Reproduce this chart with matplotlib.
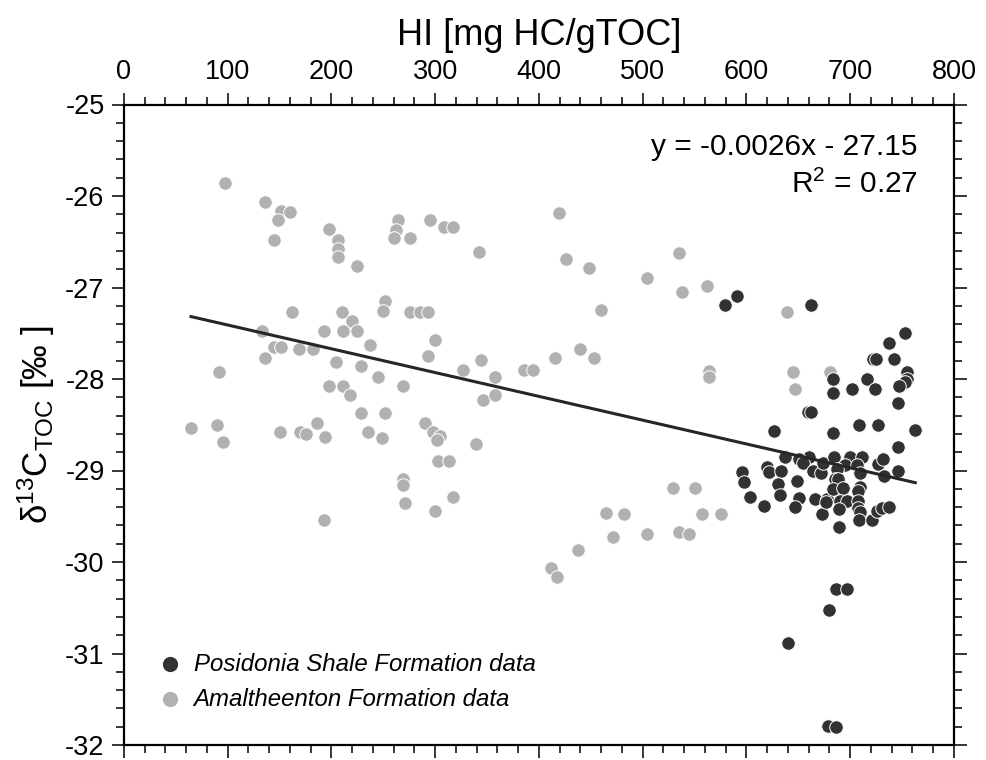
import matplotlib
matplotlib.use('Agg')
import matplotlib.pyplot as plt
from matplotlib.ticker import MultipleLocator

plt.rcParams['font.family'] = ['Liberation Sans', 'DejaVu Sans']
plt.rcParams['mathtext.fontset'] = 'custom'
plt.rcParams['mathtext.rm'] = 'Liberation Sans'
plt.rcParams['axes.unicode_minus'] = False

DPI = 100

# Amaltheenton Formation (grey)
amal_hi = [97.3, 136.2, 151.6, 160.0, 148.4, 144.6, 197.6, 206.3, 206.0, 206.0, 224.9, 161.9, 209.8, 219.8,
           133.0, 192.5, 211.1, 224.9, 144.6, 151.6, 168.7, 181.9, 236.8, 136.2, 204.3, 228.1, 91.9, 244.8,
           197.6, 211.4, 217.8, 228.1, 64.6, 89.9, 95.4, 150.1, 169.6, 175.4, 185.7, 194.0, 234.9, 248.4, 192.5,
           264.1, 262.5, 260.2, 276.0, 294.7, 308.1, 316.8, 342.2, 419.0, 425.7, 447.9, 460.0, 251.9, 249.9,
           275.7, 285.3, 293.0, 299.8, 293.0, 344.1, 327.0, 385.5, 394.5, 415.7, 439.2, 453.0,
           268.9, 357.6, 345.7, 357.6, 251.9, 289.8, 298.1, 304.6, 301.4, 339.0, 302.9, 313.3, 268.9, 268.9,
           270.8, 299.8, 316.8, 464.9, 481.6, 471.6, 437.6, 411.6, 417.3,
           534.7, 504.1, 538.1, 561.9, 563.9, 563.9,
           638.7, 645.1, 647.0, 680.8,
           529.5, 550.1, 556.8, 575.7, 504.1, 534.7, 544.9]
amal_d13c = [-25.86, -26.07, -26.16, -26.17, -26.26, -26.48, -26.36, -26.48, -26.58, -26.67, -26.77, -27.27,
             -27.27, -27.37, -27.48, -27.48, -27.48, -27.48, -27.65, -27.65, -27.67, -27.67, -27.63, -27.77,
             -27.81, -27.86, -27.92, -27.98, -28.08, -28.08, -28.17, -28.37, -28.54, -28.50, -28.69, -28.58,
             -28.58, -28.60, -28.48, -28.63, -28.58, -28.64, -29.54,
             -26.26, -26.37, -26.46, -26.46, -26.26, -26.34, -26.34, -26.61, -26.19, -26.69, -26.79, -27.25,
             -27.15, -27.26, -27.27, -27.27, -27.27, -27.57, -27.75, -27.79, -27.90, -27.90, -27.90, -27.77,
             -27.67, -27.77,
             -28.08, -27.98, -28.23, -28.17, -28.37, -28.48, -28.58, -28.62, -28.67, -28.71, -28.90, -28.90,
             -29.09, -29.16, -29.35, -29.44, -29.29, -29.46, -29.48, -29.73, -29.87, -30.07, -30.16,
             -26.62, -26.90, -27.05, -26.98, -27.91, -27.98,
             -27.27, -27.92, -28.11, -27.92,
             -29.19, -29.19, -29.48, -29.48, -29.69, -29.67, -29.69]

# Posidonia Shale Formation (dark)
posi_hi = [579.0, 591.1, 662.2, 626.5, 683.1, 683.1, 701.4, 716.4, 723.6, 722.2, 725.1, 737.1, 752.5, 742.2,
           754.4, 754.4, 753.1, 747.3, 745.7, 659.6, 662.2, 683.1, 708.4, 727.0, 762.7, 745.7,
           596.0, 597.6, 603.1, 616.6, 619.8, 621.4, 633.5, 630.7, 632.3, 636.8, 648.4, 650.6, 647.0, 660.5,
           650.9, 654.8, 663.8, 671.8, 673.4, 666.0, 672.5, 677.3, 676.6, 684.3, 699.8, 711.0, 695.0, 686.9,
           706.2, 685.3, 688.5, 709.4, 683.7, 693.3, 709.4, 707.8, 690.1, 696.6, 707.8, 689.4, 707.8, 709.4,
           689.4, 708.4, 720.7, 725.5, 730.3, 737.3, 727.0, 731.9, 732.5, 745.7,
           686.3, 696.6, 679.5, 640.3, 678.6, 686.3]
posi_d13c = [-27.19, -27.09, -27.19, -28.57, -28.00, -28.15, -28.11, -28.00, -28.11, -27.78, -27.78, -27.61,
             -27.50, -27.78, -27.92, -28.00, -28.03, -28.08, -28.26, -28.36, -28.36, -28.59, -28.50, -28.50,
             -28.56, -28.74,
             -29.02, -29.13, -29.29, -29.39, -28.96, -29.02, -29.00, -29.15, -29.27, -28.85, -29.11, -29.30,
             -29.40, -28.85, -28.87, -28.92, -29.01, -29.03, -28.92, -29.31, -29.48, -29.31, -29.34, -28.85,
             -28.85, -28.85, -28.94, -28.98, -28.94, -29.09, -29.09, -29.03, -29.20, -29.19, -29.18, -29.22,
             -29.33, -29.33, -29.33, -29.42, -29.41, -29.45, -29.62, -29.54, -29.54, -29.44, -29.41, -29.40,
             -28.93, -28.87, -29.06, -29.00,
             -30.29, -30.29, -30.52, -30.89, -31.79, -31.80]

SLOPE = -0.0026
INTERCEPT = -27.15

DARK = '#323232'
GREY = '#b1b1b3'

fig = plt.figure(dpi=DPI, figsize=(987 / DPI, 760 / DPI))
ax = fig.add_axes([124 / 987, 1 - 745 / 760, 830 / 987, 640.5 / 760])

ax.scatter(amal_hi, amal_d13c, s=95, c=GREY, edgecolors='white', linewidths=0.7,
           label='Amaltheenton Formation data', zorder=2)
ax.scatter(posi_hi, posi_d13c, s=95, c=DARK, edgecolors='white', linewidths=0.7,
           label='Posidonia Shale Formation data', zorder=3)

# regression line over the data range
all_hi = amal_hi + posi_hi
x0, x1 = min(all_hi), max(all_hi)
ax.plot([x0, x1], [SLOPE * x0 + INTERCEPT, SLOPE * x1 + INTERCEPT], color='#262626', lw=2.2, zorder=4)

ax.set_xlim(0, 800)
ax.set_ylim(-32, -25)
ax.xaxis.set_major_locator(MultipleLocator(100))
ax.xaxis.set_minor_locator(MultipleLocator(20))
ax.yaxis.set_major_locator(MultipleLocator(1))
ax.yaxis.set_minor_locator(MultipleLocator(0.2))
ax.tick_params(which='both', direction='out', top=True, bottom=True, left=True, right=True,
               labeltop=True, labelbottom=False, labelleft=True, labelright=False, width=1.1)
ax.tick_params(which='major', length=9, labelsize=19.5, pad=5)
ax.tick_params(which='minor', length=6)
for sp in ax.spines.values():
    sp.set_linewidth(1.6)

ax.xaxis.set_label_position('top')
ax.set_xlabel('HI [mg HC/gTOC]', fontsize=26, labelpad=10)
ax.set_ylabel(r'$\mathregular{\delta^{13}C_{TOC}}$ [‰ ]', fontsize=25, labelpad=6)

ax.text(0.9566, 0.9214, 'y = -0.0026x - 27.15', transform=ax.transAxes, ha='right', va='baseline', fontsize=21.5)
ax.text(0.9566, 0.862, r'R$^2$ = 0.27', transform=ax.transAxes, ha='right', va='baseline', fontsize=21.5)

h, l = ax.get_legend_handles_labels()
ax.legend(h[::-1], l[::-1], loc='lower left', bbox_to_anchor=(0.0, 0.02), frameon=False,
          prop={'style': 'italic', 'size': 17.3}, handletextpad=0.0, labelspacing=0.5,
          markerscale=1.2, scatterpoints=1)

fig.savefig('out.png', dpi=DPI)
